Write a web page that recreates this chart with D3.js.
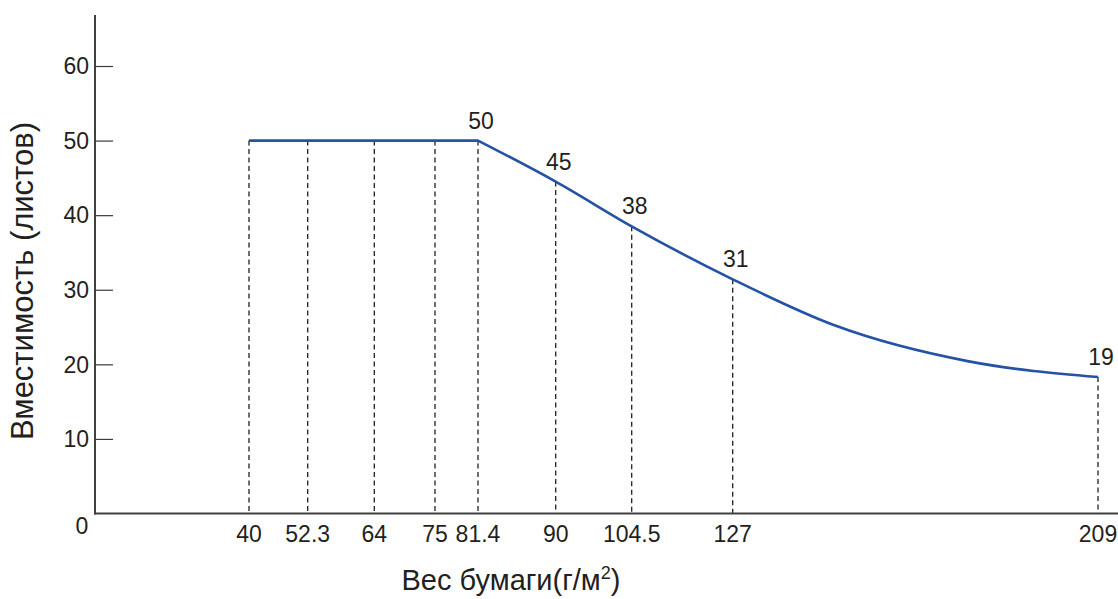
<!DOCTYPE html>
<html>
<head>
<meta charset="utf-8">
<script src="https://cdn.jsdelivr.net/npm/d3@7"></script>
<style>
  body { margin: 0; background: #fff; }
  svg { display: block; font-family: "Liberation Sans", Arial, sans-serif; }
  .lbl { fill: #231f20; font-size: 23px; }
</style>
</head>
<body>
<div id="chart"></div>
<script>
'use strict';

// paper weights shown on the x axis (g/m2)
const weights = [40, 52.3, 64, 75, 81.4, 90, 104.5, 127, 209];
// capacity at each weight (sheets)
const capacity = [50, 50, 50, 50, 50, 44.5, 38.5, 31.4, 18.3];
// extra samples along the tail of the curve
const tailWeights = [150, 180];
const tailCapacity = [25.2, 20.4];
// numbers printed above the curve
const labelWeights = [81.4, 90, 104.5, 127, 209];
const labelTexts = ['50', '45', '38', '31', '19'];
const yTicks = [10, 20, 30, 40, 50, 60];

const width = 1118, height = 599;
const origin = { x: 95, y: 513.5 };

const svg = d3.select('#chart').append('svg')
  .attr('width', width)
  .attr('height', height);

// the axis is not to scale: each weight has its own slot
let x = d3.scaleLinear()
  .domain(weights)
  .range([249, 307.7, 374.3, 435, 478, 555.7, 631.7, 732.7, 1098]);
let y = d3.scaleLinear().domain([0, 60]).range([origin.y, 66]);

// curve points, sorted by weight
let points = weights.map((w, i) => ({ w: w, v: capacity[i] }))
  .concat(tailWeights.map((w, i) => ({ w: w, v: tailCapacity[i] })))
  .sort((a, b) => a.w - b.w);

function capAt(w) {
  let p = points.find((d) => d.w == w);
  return p.v;
}

// dashed drop lines
svg.append('g').selectAll('line').data(weights).enter()
  .append('line')
  .attr('x1', (d) => x(d)).attr('x2', (d) => x(d))
  .attr('y1', (d, i) => y(capacity[i]))
  .attr('y2', origin.y)
  .attr('stroke', '#231f20')
  .attr('stroke-width', 1.3)
  .attr('stroke-dasharray', '5,3.5');

// axes
let yAxis = d3.axisRight(y).tickValues(yTicks).tickSize(18).tickFormat('');
let gy = svg.append('g')
  .attr('transform', 'translate(' + origin.x + ',0)')
  .call(yAxis);
gy.select('.domain').remove();
gy.selectAll('.tick line').attr('stroke', '#3a3a3a').attr('stroke-width', 1.2);

svg.append('line')
  .attr('x1', origin.x).attr('x2', origin.x)
  .attr('y1', 15).attr('y2', origin.y + 1)
  .attr('stroke', '#404040').attr('stroke-width', 2);

svg.append('line')
  .attr('x1', origin.x - 1).attr('x2', width)
  .attr('y1', origin.y).attr('y2', origin.y)
  .attr('stroke', '#404040').attr('stroke-width', 2);

svg.append('g').selectAll('text').data(yTicks).enter()
  .append('text')
  .attr('class', 'lbl')
  .attr('x', origin.x - 6)
  .attr('y', (d) => y(d))
  .attr('dy', '0.36em')
  .attr('text-anchor', 'end')
  .text((d) => d);

svg.append('text')
  .attr('class', 'lbl')
  .attr('x', 82).attr('y', 534)
  .attr('text-anchor', 'middle')
  .text('0');

svg.append('g').selectAll('text').data(weights).enter()
  .append('text')
  .attr('class', 'lbl')
  .attr('x', (d) => x(d))
  .attr('y', 542)
  .attr('text-anchor', 'middle')
  .text((d) => d);

// curve: flat part is straight, the drop is smoothed
let flat = points.filter((d) => d.w <= 81.4);
let drop = points.filter((d) => d.w >= 81.4);

let straight = d3.line().x((d) => x(d.w)).y((d) => y(d.v));
let smooth = d3.line()
  .x((d) => x(d.w))
  .y((d) => y(d.v))
  .curve(d3.curveMonotoneX);

svg.append('path')
  .attr('d', straight(flat) + smooth(drop).replace(/^M/, 'L'))
  .attr('fill', 'none')
  .attr('stroke', '#2452a4')
  .attr('stroke-width', 2.6)
  .attr('stroke-linejoin', 'round');

// value labels
svg.append('g').selectAll('text').data(labelWeights).enter()
  .append('text')
  .attr('class', 'lbl')
  .attr('x', (d) => x(d) + 3)
  .attr('y', (d) => y(capAt(d)) - 12)
  .attr('text-anchor', 'middle')
  .text((d, i) => labelTexts[i]);

// axis titles
let xt = svg.append('text')
  .attr('class', 'lbl')
  .attr('x', 511).attr('y', 590)
  .attr('text-anchor', 'middle')
  .style('font-size', '29px');
xt.append('tspan').text('Вес бумаги(г/м');
xt.append('tspan').attr('dy', -11).style('font-size', '18px').text('2');
xt.append('tspan').attr('dy', 11).text(')');

svg.append('text')
  .attr('class', 'lbl')
  .attr('transform', 'translate(33,281) rotate(-90)')
  .attr('text-anchor', 'middle')
  .style('font-size', '31px')
  .text('Вместимость (листов)');
</script>
</body>
</html>
